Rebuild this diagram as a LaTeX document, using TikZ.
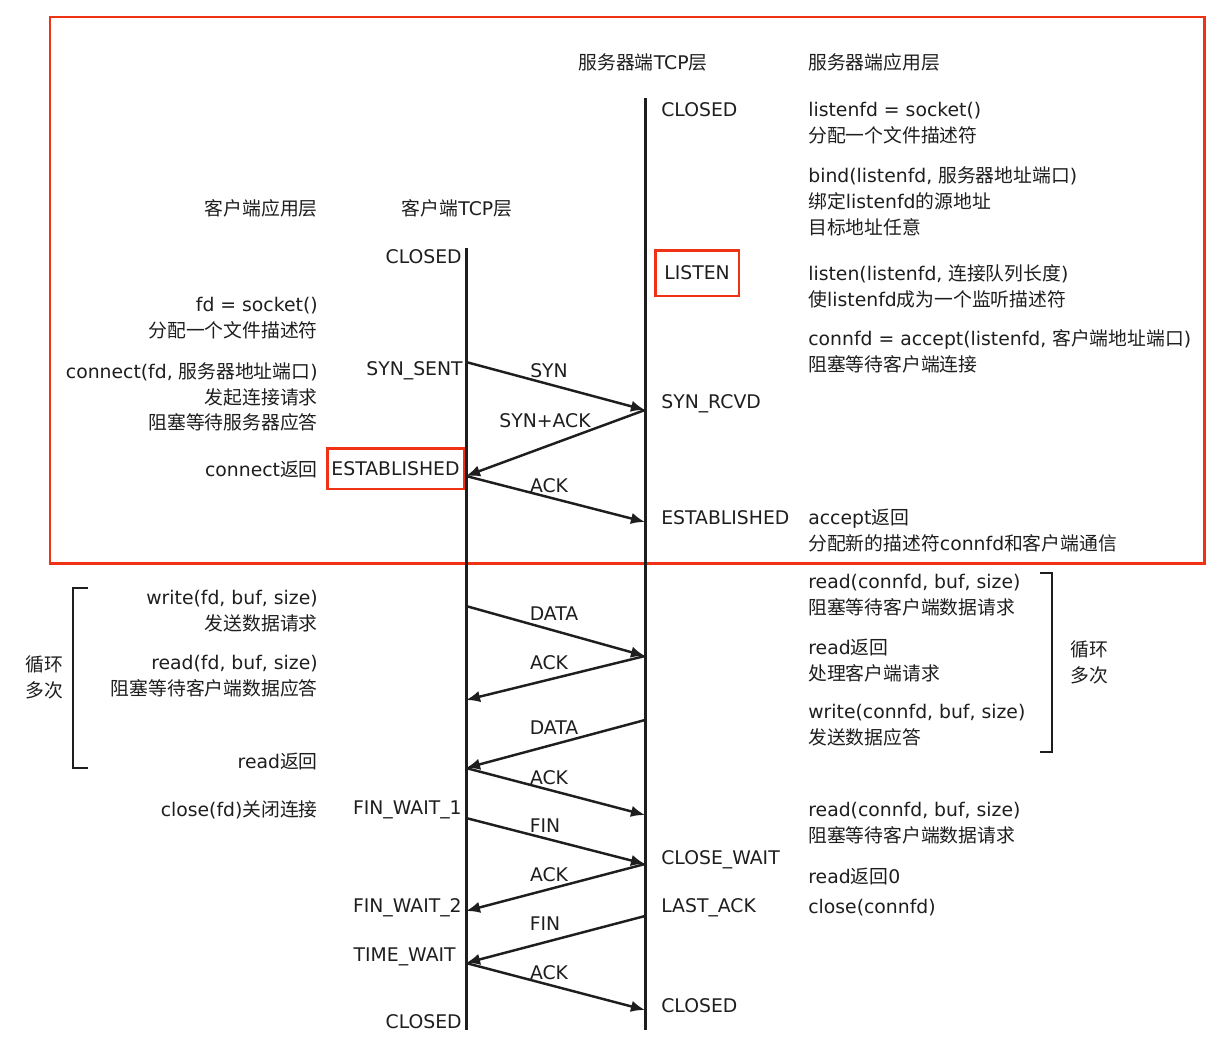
\documentclass[tikz,border=0pt]{standalone}
\usepackage{fontspec}
\setmainfont{DejaVu Sans}
\newfontfamily\zhfont{Noto Sans CJK SC}
\newcommand{\zh}[1]{{\zhfont #1}}
\usetikzlibrary{arrows.meta}
\definecolor{FrameRed}{RGB}{240,50,20}
\definecolor{InkGray}{RGB}{30,30,30}
\tikzset{
  txt/.style={font=\fontsize{10.7}{14.74}\selectfont,text=InkGray,inner sep=0pt},
  lt/.style={txt,anchor=west,align=left},
  rt/.style={txt,anchor=east,align=right},
  lifeline/.style={draw=InkGray,line width=1.7pt},
  msg/.style={draw=InkGray,line width=1.4pt,-{Latex[length=8pt,width=6.5pt]}},
  brack/.style={draw=InkGray,line width=1.4pt},
  hl/.style={txt,draw=FrameRed,line width=1.7pt},
}
\tikzset{mlab/.style={txt}, frame/.style={draw=FrameRed,line width=1.7pt}}

\begin{document}
\begin{tikzpicture}[x=0.02cm,y=-0.02cm]
\fill[white] (0,0) rectangle (1209,1055);
\useasboundingbox (0,0) rectangle (1209,1055);
\draw[frame] (50,17) rectangle (1204,563);
% lifelines
\coordinate (cTop) at (466,248);
\coordinate (cBot) at (466,1030);
\coordinate (sTop) at (645,98);
\coordinate (sBot) at (645,1030);
\draw[lifeline] (cTop)--(cBot);
\draw[lifeline] (sTop)--(sBot);
% headers
\node[txt] (hServerTcp) at (643,62) {\zh{服务器端}TCP\zh{层}};
\node[lt] (hServerApp) at (808,62) {\zh{服务器端应用层}};
\node[rt] (hClientApp) at (318,208) {\zh{客户端应用层}};
\node[txt] (hClientTcp) at (457,208) {\zh{客户端}TCP\zh{层}};
% server states
\node[lt] (sClosed) at (661,110) {CLOSED};
\node[hl,minimum width=1.68cm,minimum height=0.92cm] (sListen) at (697,273) {LISTEN};
\node[lt] (sRcvd) at (661,404) {SYN\_RCVD};
\node[lt] (sEst) at (661,518) {ESTABLISHED};
\node[lt] (sCloseWait) at (661,860) {CLOSE\_WAIT};
\node[lt] (sLastAck) at (661,908) {LAST\_ACK};
\node[lt] (sClosedEnd) at (661,1006) {CLOSED};
% client states
\node[rt] (cClosed) at (462,257) {CLOSED};
\node[rt] (cSent) at (463,371) {SYN\_SENT};
\node[hl,minimum width=2.74cm,minimum height=0.82cm] (cEst) at (395.5,468.5) {ESTABLISHED};
\node[rt] (cFinWaitA) at (462,810) {FIN\_WAIT\_1};
\node[rt] (cFinWaitB) at (462,908) {FIN\_WAIT\_2};
\node[rt] (cTimeWait) at (456,957) {TIME\_WAIT};
\node[rt] (cClosedEnd) at (462,1022) {CLOSED};
% client application
\node[rt] (aSocket) at (318,318) {fd = socket()\\\zh{分配一个文件描述符}};
\node[rt] (aConnect) at (318,397) {connect(fd, \zh{服务器地址端口})\\\zh{发起连接请求}\\\zh{阻塞等待服务器应答}};
\node[rt] (aConnRet) at (318,469) {connect\zh{返回}};
\node[rt] (aWrite) at (318,611.5) {write(fd, buf, size)\\\zh{发送数据请求}};
\node[rt] (aRead) at (318,676.5) {read(fd, buf, size)\\\zh{阻塞等待客户端数据应答}};
\node[rt] (aReadRet) at (318,761) {read\zh{返回}};
\node[rt] (aClose) at (318,810) {close(fd)\zh{关闭连接}};
% server application
\node[lt] (bSocket) at (808,123) {listenfd = socket()\\\zh{分配一个文件描述符}};
\node[lt] (bBind) at (808,201) {bind(listenfd, \zh{服务器地址端口})\\\zh{绑定}listenfd\zh{的源地址}\\\zh{目标地址任意}};
\node[lt] (bListen) at (808,286) {listen(listenfd, \zh{连接队列长度})\\\zh{使}listenfd\zh{成为一个监听描述符}};
\node[lt] (bAccept) at (808,351.5) {connfd = accept(listenfd, \zh{客户端地址端口})\\\zh{阻塞等待客户端连接}};
\node[lt] (bAccRet) at (808,531) {accept\zh{返回}\\\zh{分配新的描述符}connfd\zh{和客户端通信}};
\node[lt] (bRead) at (808,595.5) {read(connfd, buf, size)\\\zh{阻塞等待客户端数据请求}};
\node[lt] (bReadRet) at (808,660.5) {read\zh{返回}\\\zh{处理客户端请求}};
\node[lt] (bWrite) at (808,725.5) {write(connfd, buf, size)\\\zh{发送数据应答}};
\node[lt] (bReadB) at (808,823.5) {read(connfd, buf, size)\\\zh{阻塞等待客户端数据请求}};
\node[lt] (bReadZero) at (808,876) {read\zh{返回}0};
\node[lt] (bClose) at (808,908) {close(connfd)};
% loop brackets
\draw[brack] (88,588)--(73,588)--(73,768)--(88,768);
\draw[brack] (1040,573)--(1052,573)--(1052,752)--(1040,752);
\node[txt,align=center] (loopL) at (44,677) {\zh{循环}\\\zh{多次}};
\node[txt,align=center] (loopR) at (1089,662) {\zh{循环}\\\zh{多次}};
% message end points
\coordinate (cSyn) at (466,362);
\coordinate (cSynAck) at (466,476);
\coordinate (cDataA) at (466,606);
\coordinate (cAckB) at (466,700);
\coordinate (cDataB) at (466,768);
\coordinate (cFinA) at (466,818);
\coordinate (cAckD) at (466,911);
\coordinate (cFinB) at (466,963);
\coordinate (sSyn) at (645,410);
\coordinate (sAckA) at (645,522);
\coordinate (sDataA) at (645,656);
\coordinate (sDataB) at (645,720);
\coordinate (sAckC) at (645,815);
\coordinate (sFinA) at (645,864);
\coordinate (sFinB) at (645,916);
\coordinate (sAckE) at (645,1010);
\draw[msg] (cSyn)--(sSyn);
\draw[msg] (sSyn)--(cSynAck);
\draw[msg] (cSynAck)--(sAckA);
\draw[msg] (cDataA)--(sDataA);
\draw[msg] (sDataA)--(cAckB);
\draw[msg] (sDataB)--(cDataB);
\draw[msg] (cDataB)--(sAckC);
\draw[msg] (cFinA)--(sFinA);
\draw[msg] (sFinA)--(cAckD);
\draw[msg] (sFinB)--(cFinB);
\draw[msg] (cFinB)--(sAckE);
% message labels
\node[mlab] (mSyn) at (549,371) {SYN};
\node[mlab] (mSynAck) at (545,421) {SYN+ACK};
\node[mlab] (mAckA) at (549,486) {ACK};
\node[mlab] (mDataA) at (554,614) {DATA};
\node[mlab] (mAckB) at (549,663) {ACK};
\node[mlab] (mDataB) at (554,728) {DATA};
\node[mlab] (mAckC) at (549,778) {ACK};
\node[mlab] (mFinA) at (545,826) {FIN};
\node[mlab] (mAckD) at (549,875) {ACK};
\node[mlab] (mFinB) at (545,924) {FIN};
\node[mlab] (mAckE) at (549,973) {ACK};
\end{tikzpicture}
\end{document}
